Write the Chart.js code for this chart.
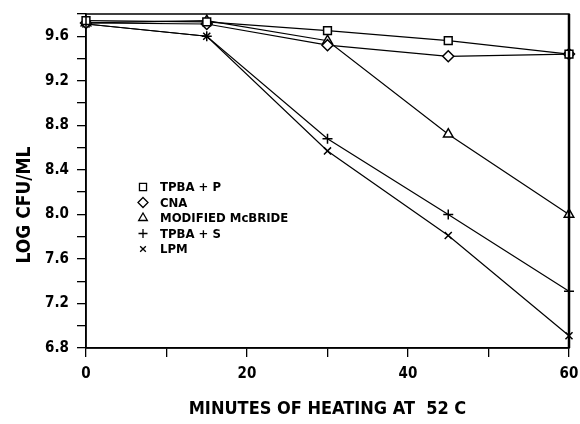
<!DOCTYPE html>
<html>
<head>
<meta charset="utf-8">
<script src="https://cdn.jsdelivr.net/npm/chart.js@4.4.1/dist/chart.umd.min.js"></script>
<style>
  html, body { margin: 0; padding: 0; background: #fff; }
  #wrap { width: 580px; height: 424px; }
</style>
</head>
<body>
<div id="wrap"><canvas id="heatChart" width="580" height="424"></canvas></div>
<script>
// minutes of heating
const minutes = [0, 15, 30, 45, 60];

// log CFU/ml per medium
const tpbaP = [9.74, 9.73, 9.65, 9.56, 9.44];
const cna = [9.72, 9.71, 9.52, 9.42, 9.44];
const mcbride = [9.72, 9.74, 9.56, 8.72, 8.00];
const tpbaS = [9.71, 9.60, 8.68, 8.00, 7.31];
const lpm = [9.71, 9.60, 8.57, 7.81, 6.91];

const yTickLabels = ['6.8', '7.2', '7.6', '8.0', '8.4', '8.8', '9.2', '9.6'];
const xTickLabels = ['0', '20', '40', '60'];

const FONT = "'Liberation Sans Narrow', 'DejaVu Sans Condensed', 'Liberation Sans', sans-serif";

const series = [
  { label: 'TPBA + P', data: tpbaP, style: 'rect', r: 5.5 },
  { label: 'CNA', data: cna, style: 'rectRot', r: 5.5 },
  { label: 'MODIFIED McBRIDE', data: mcbride, style: 'triangle', r: 5.5 },
  { label: 'TPBA + S', data: tpbaS, style: 'cross', r: 5 },
  { label: 'LPM', data: lpm, style: 'crossRot', r: 5 },
];

const datasets = series.map(s => ({
  label: s.label,
  data: s.data.map((v, i) => ({ x: minutes[i], y: v })),
  borderColor: '#000',
  borderWidth: 1.2,
  pointStyle: s.style,
  pointRadius: s.r,
  pointBorderWidth: 1.5,
  pointBackgroundColor: '#fff',
  pointBorderColor: '#000',
  tension: 0,
  fill: false,
  clip: 8,
}));

// box around the plot area + y title placed like the original
const frame = {
  id: 'frame',
  afterDraw(chart) {
    const { ctx, chartArea: a } = chart;
    ctx.save();
    ctx.strokeStyle = '#000';
    ctx.lineWidth = 1.5;
    ctx.strokeRect(a.left, a.top, a.right - a.left, a.bottom - a.top);
    ctx.lineWidth = 2.5;
    ctx.beginPath();
    ctx.moveTo(a.right, a.top);
    ctx.lineTo(a.right, a.bottom);
    ctx.stroke();

    ctx.translate(25, 205);
    ctx.rotate(-Math.PI / 2);
    ctx.font = 'bold 19px ' + FONT;
    ctx.fillStyle = '#000';
    ctx.textAlign = 'center';
    ctx.textBaseline = 'middle';
    ctx.fillText('LOG CFU/ML', 0, 0);
    ctx.restore();
  }
};

// legend drawn inside the plot, like the original figure
const legendSize = { rect: 5, rectRot: 5, triangle: 5, cross: 4.5, crossRot: 4 };
const innerLegend = {
  id: 'innerLegend',
  afterDraw(chart) {
    const ctx = chart.ctx;
    const x0 = 143, y0 = 187, gap = 15.5;
    ctx.save();
    ctx.font = 'bold 13px ' + FONT;
    ctx.textBaseline = 'middle';
    series.forEach((s, i) => {
      const y = y0 + i * gap;
      ctx.strokeStyle = '#000';
      ctx.fillStyle = '#fff';
      ctx.lineWidth = 1.3;
      Chart.helpers.drawPoint(ctx, { pointStyle: s.style, radius: legendSize[s.style], rotation: 0, borderWidth: 1.3 }, x0, y);
      ctx.fillStyle = '#000';
      ctx.fillText(s.label, x0 + 17, y + 1);
    });
    ctx.restore();
  }
};

new Chart(document.getElementById('heatChart').getContext('2d'), {
  type: 'line',
  data: { datasets },
  plugins: [frame, innerLegend],
  options: {
    responsive: false,
    animation: false,
    layout: { padding: { top: 14, right: 11, left: 0, bottom: 0 } },
    plugins: { legend: { display: false }, tooltip: { enabled: false } },
    scales: {
      x: {
        type: 'linear',
        min: 0,
        max: 60,
        afterFit(scale) {
          scale.height = 76;
          scale.paddingLeft = 0;
          scale.paddingRight = 0;
        },
        grid: { drawOnChartArea: false, drawTicks: true, tickLength: 9, color: '#000', lineWidth: 1.3 },
        border: { display: true, color: '#000', width: 1.5 },
        ticks: {
          stepSize: 10,
          color: '#000',
          padding: 8,
          font: { family: FONT, size: 15, weight: 'bold' },
          callback: v => (v % 20 === 0 ? xTickLabels[v / 20] : ''),
        },
        title: {
          display: true,
          text: 'MINUTES OF HEATING AT  52 C',
          color: '#000',
          padding: { top: 10 },
          font: { family: FONT, size: 18, weight: 'bold' },
        },
      },
      y: {
        type: 'linear',
        min: 6.8,
        max: 9.8,
        afterFit(scale) {
          scale.width = 86;
          scale.paddingTop = 0;
          scale.paddingBottom = 0;
        },
        grid: { drawOnChartArea: false, drawTicks: true, tickLength: 9, color: '#000', lineWidth: 1.3 },
        border: { display: true, color: '#000', width: 1.5 },
        ticks: {
          stepSize: 0.2,
          color: '#000',
          padding: 8,
          font: { family: FONT, size: 15, weight: 'bold' },
          callback: v => {
            const k = Math.round((v - 6.8) / 0.2);
            return k % 2 === 0 ? (yTickLabels[k / 2] || '') : '';
          },
        },
        title: { display: false },
      },
    },
  },
});
</script>
</body>
</html>
